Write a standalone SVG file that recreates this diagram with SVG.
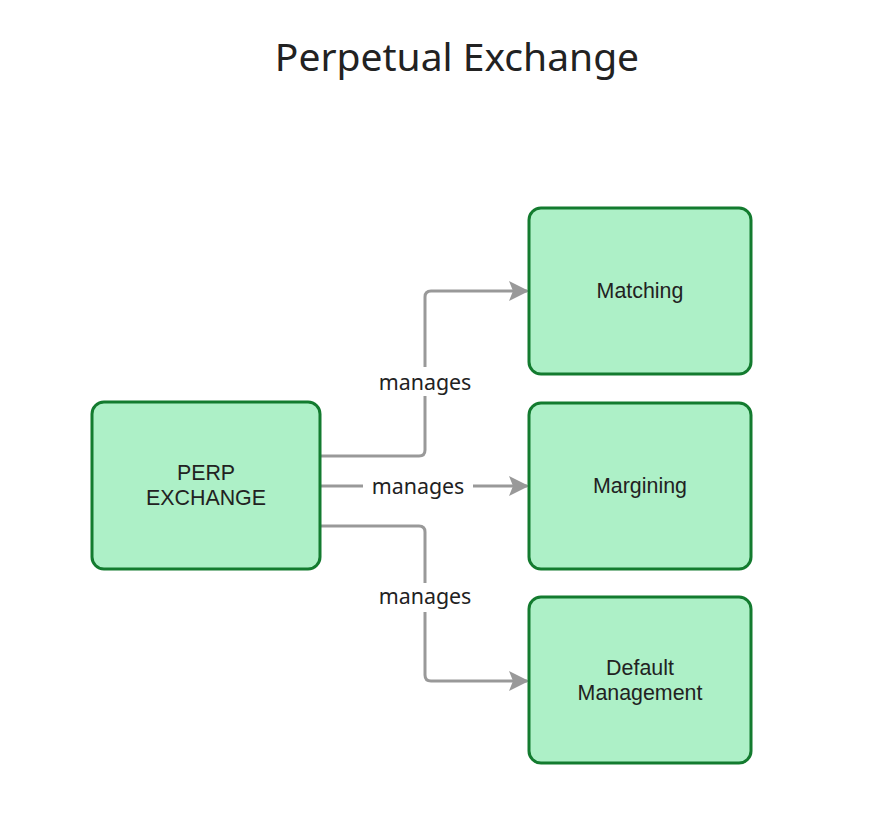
<svg xmlns="http://www.w3.org/2000/svg" width="872" height="832" viewBox="0 0 872 832">
<defs>
<style>
.node{fill:#adf0c7;stroke:#137b2f;stroke-width:3}
.nt{font-family:"Liberation Sans",Arial,sans-serif;font-size:21.4px;fill:#222;text-anchor:middle}
.edge{fill:none;stroke:#999;stroke-width:3}
.lbl{font-family:"Noto Sans",sans-serif;font-size:21.4px;fill:#222;text-anchor:middle}
.title{font-family:"Noto Sans",sans-serif;font-size:39px;fill:#222;text-anchor:middle}
</style>
<marker id="arr" markerWidth="20" markerHeight="20" refX="18" refY="10" orient="auto" markerUnits="userSpaceOnUse">
<path d="M0,0 L20,10 L0,20 L4,10 Z" fill="#999"/>
</marker>
</defs>
<rect width="872" height="832" fill="#fff"/>
<text class="title" x="457" y="71">Perpetual Exchange</text>
<g id="connectors">
<path class="edge" d="M320,456 H419 Q425,456 425,450 V297 Q425,291 431,291 H527" marker-end="url(#arr)"/>
<path class="edge" d="M320,486 H527" marker-end="url(#arr)"/>
<path class="edge" d="M320,526 H419 Q425,526 425,532 V675 Q425,681 431,681 H527" marker-end="url(#arr)"/>
<rect x="370" y="367" width="110" height="29" fill="#fff"/>
<rect x="363" y="472" width="110" height="29" fill="#fff"/>
<rect x="370" y="583" width="110" height="29" fill="#fff"/>
<text class="lbl" x="425" y="390">manages</text>
<text class="lbl" x="418" y="494">manages</text>
<text class="lbl" x="425" y="604">manages</text>
</g>
<g id="perp">
<rect class="node" x="92" y="402" width="228" height="167" rx="12"/>
<text class="nt" x="206" y="480">PERP</text>
<text class="nt" x="206" y="505">EXCHANGE</text>
</g>
<g id="matching">
<rect class="node" x="529" y="208" width="222" height="166" rx="12"/>
<text class="nt" x="640" y="298">Matching</text>
</g>
<g id="margining">
<rect class="node" x="529" y="403" width="222" height="166" rx="12"/>
<text class="nt" x="640" y="493">Margining</text>
</g>
<g id="default">
<rect class="node" x="529" y="597" width="222" height="166" rx="12"/>
<text class="nt" x="640" y="675">Default</text>
<text class="nt" x="640" y="700">Management</text>
</g>
</svg>
